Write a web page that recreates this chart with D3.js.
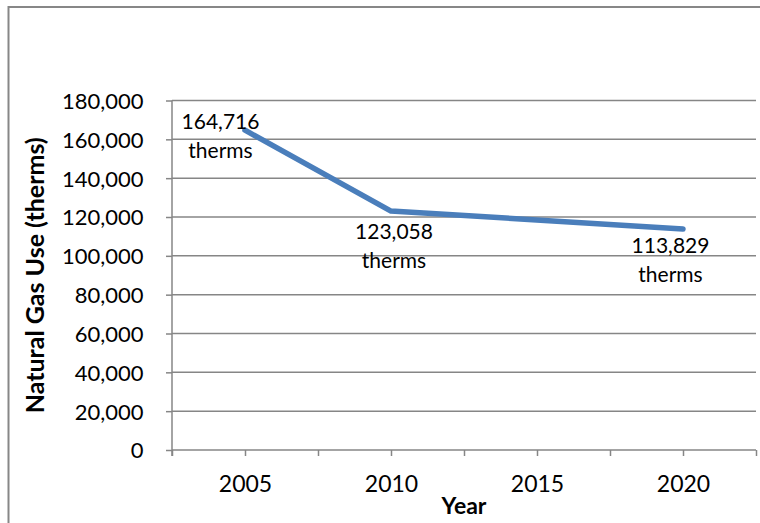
<!DOCTYPE html>
<html>
<head>
<meta charset="utf-8">
<script src="https://cdn.jsdelivr.net/npm/d3@7"></script>
<style>
  html, body { margin: 0; padding: 0; background: #ffffff; }
  svg { display: block; }
  text { font-family: Lato, "Liberation Sans", Arial, sans-serif; fill: #000; }
</style>
</head>
<body>
<svg id="chart" width="760" height="523"></svg>
<script>
// Natural gas use by year
const years = [2005, 2010, 2020];
const gasUse = [164716, 123058, 113829];
const unitLabel = "therms";

// Axis settings
const yTicks = [0, 20000, 40000, 60000, 80000, 100000, 120000, 140000, 160000, 180000];
const xTickYears = [2002.5, 2005, 2007.5, 2010, 2012.5, 2015, 2017.5, 2020, 2022.5];
const xAxisTitle = "Year";
const yAxisTitle = "Natural Gas Use (therms)";

// Placement of each value label relative to its point (first line centre)
const labelOffsets = [[-24.5, -8.5], [3, 20.5], [-12.5, 16.5]];

const svg = d3.select("#chart");
const gridColor = "#868686";
const fontStack = "Lato, 'Liberation Sans', Arial, sans-serif";

// Outer chart frame
svg.append("rect")
  .attr("x", 8.5).attr("y", 7)
  .attr("width", 800).attr("height", 600)
  .attr("fill", "none")
  .attr("stroke", "#878787")
  .attr("stroke-width", 2);

const x = d3.scaleLinear().domain([2002.5, 2022.5]).range([172, 756]);
const y = d3.scaleLinear().domain([0, 180000]).range([450, 100.5]);

// Horizontal gridlines
svg.append("g")
  .selectAll("line")
  .data(yTicks.filter(d => d > 0))
  .join("line")
  .attr("x1", x.range()[0]).attr("x2", x.range()[1])
  .attr("y1", d => y(d)).attr("y2", d => y(d))
  .attr("stroke", gridColor)
  .attr("stroke-width", 1.5);

// Y axis
const yAxis = svg.append("g")
  .attr("transform", `translate(${x.range()[0]},0)`)
  .call(d3.axisLeft(y).tickValues(yTicks).tickSize(6).tickSizeOuter(0).tickFormat(d3.format(",")));
yAxis.select(".domain").attr("stroke", gridColor).attr("stroke-width", 1.5)
  .attr("d", `M0,${y(0) + 6}V${y(180000)}`);
yAxis.selectAll(".tick line").attr("stroke", gridColor).attr("stroke-width", 1.5);
yAxis.selectAll(".tick text")
  .attr("x", -28.5).attr("dy", "0.36em")
  .style("font-size", "22px")
  .style("font-family", fontStack)
  .attr("fill", "#000");

// X axis
const xAxis = svg.append("g")
  .attr("transform", `translate(0,${y(0)})`)
  .call(d3.axisBottom(x).tickValues(xTickYears).tickSize(6).tickSizeOuter(0)
    .tickFormat(d => (d % 5 === 0 ? String(d) : "")));
xAxis.select(".domain").attr("stroke", gridColor).attr("stroke-width", 1.5)
  .attr("d", `M${x.range()[0]},0H${x.range()[1]}`);
xAxis.selectAll(".tick line").attr("stroke", gridColor).attr("stroke-width", 1.5);
xAxis.selectAll(".tick text")
  .attr("y", 33.7).attr("dy", "0.36em")
  .style("font-size", "23px")
  .style("font-family", fontStack)
  .attr("fill", "#000");

// Axis titles
svg.append("text")
  .attr("x", (x.range()[0] + x.range()[1]) / 2)
  .attr("y", 514)
  .attr("text-anchor", "middle")
  .style("font-size", "23px")
  .style("font-weight", "bold")
  .text(xAxisTitle);

svg.append("text")
  .attr("transform", `translate(44,${(y(0) + y(180000)) / 2}) rotate(-90)`)
  .attr("text-anchor", "middle")
  .style("font-size", "25px")
  .style("font-weight", "bold")
  .text(yAxisTitle);

// Data line
const points = years.map((yr, i) => ({ year: yr, value: gasUse[i] }));
svg.append("path")
  .datum(points)
  .attr("fill", "none")
  .attr("stroke", "#4A7EBB")
  .attr("stroke-width", 5.5)
  .attr("stroke-linecap", "round")
  .attr("stroke-linejoin", "round")
  .attr("d", d3.line().x(d => x(d.year)).y(d => y(d.value)));

// Value labels
const fmt = d3.format(",");
const labels = svg.append("g")
  .selectAll("text")
  .data(points)
  .join("text")
  .attr("text-anchor", "middle")
  .style("font-size", "21px")
  .attr("transform", (d, i) => `translate(${x(d.year) + labelOffsets[i][0]},${y(d.value) + labelOffsets[i][1]})`);
labels.append("tspan").attr("x", 0).attr("dy", "0.36em").text(d => fmt(d.value));
labels.append("tspan").attr("x", 0).attr("dy", 28.8).text(unitLabel);
</script>
</body>
</html>
